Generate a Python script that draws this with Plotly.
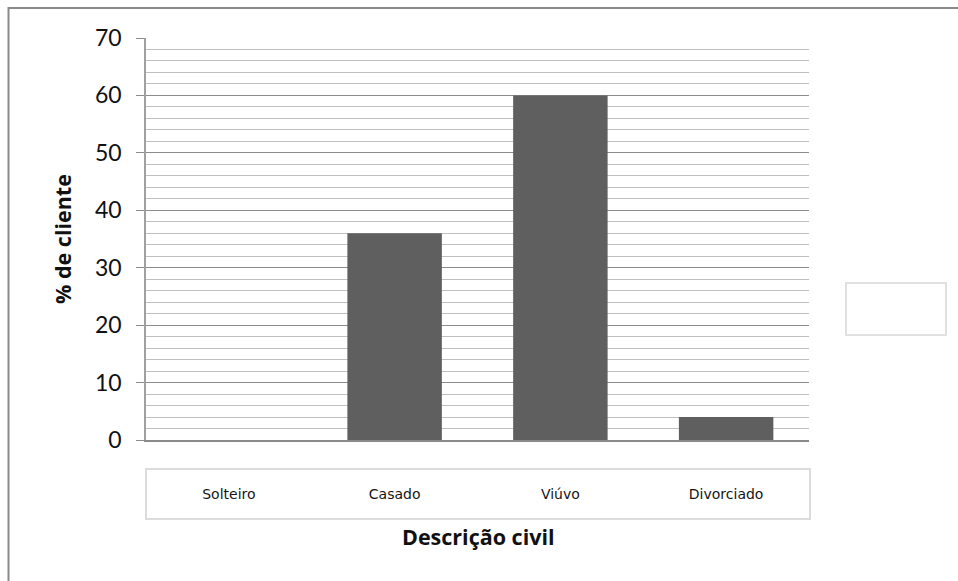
import plotly.graph_objects as go

# Estado civil dos clientes (% de cliente)
categorias = ["Solteiro", "Casado", "Viúvo", "Divorciado"]
percentuais = [0, 36, 60, 4]
y_ticks = [0, 10, 20, 30, 40, 50, 60, 70]

W, H = 958, 581


def px_x(px):
    return px / W


def px_y(py):
    return 1 - py / H


fig = go.Figure(
    go.Bar(
        x=categorias,
        y=percentuais,
        marker=dict(color="#5f5f5f", line=dict(width=0)),
        width=0.57,
        hoverinfo="x+y",
    )
)

fig.update_layout(
    width=W,
    height=H,
    margin=dict(l=0, r=0, t=0, b=0, autoexpand=False),
    paper_bgcolor="white",
    plot_bgcolor="white",
    showlegend=False,
    xaxis=dict(
        domain=[px_x(146), px_x(809)],
        type="category",
        showgrid=False,
        showline=True,
        linecolor="#8a8a8a",
        linewidth=1.5,
        ticks="",
        ticklabelstandoff=40,
        tickfont=dict(family="DejaVu Sans", size=14, color="#151515"),
    ),
    yaxis=dict(
        domain=[px_y(440), px_y(38)],
        range=[0, 70],
        tickvals=y_ticks,
        ticks="outside",
        ticklen=8,
        tickcolor="#8c8c8c",
        tickwidth=1.3,
        showline=True,
        linecolor="#a0a0a0",
        linewidth=1.5,
        showgrid=True,
        gridcolor="#8c8c8c",
        gridwidth=1.3,
        zeroline=False,
        ticklabelstandoff=10,
        tickfont=dict(family="Lato", size=23, color="#111111"),
        minor=dict(dtick=2, showgrid=True, gridcolor="#c0c0c0", gridwidth=1.2, ticks=""),
    ),
    shapes=[
        # moldura externa do gráfico
        dict(type="rect", xref="paper", yref="paper",
             x0=px_x(8.5), x1=1.05, y0=-0.05, y1=px_y(8),
             line=dict(color="#8a8a8a", width=2)),
        # caixa das categorias
        dict(type="rect", xref="paper", yref="paper",
             x0=px_x(146), x1=px_x(810), y0=px_y(519), y1=px_y(469),
             line=dict(color="#dcdcdc", width=2)),
        # caixa da legenda
        dict(type="rect", xref="paper", yref="paper",
             x0=px_x(846), x1=px_x(946), y0=px_y(335), y1=px_y(283),
             line=dict(color="#e0e0e0", width=2)),
    ],
    annotations=[
        dict(text="<b>Descrição civil</b>", xref="paper", yref="paper",
             x=px_x(478), y=px_y(536), showarrow=False,
             xanchor="center", yanchor="middle",
             font=dict(family="Open Sans", size=21.5, color="#111111")),
        dict(text="<b>% de cliente</b>", xref="paper", yref="paper",
             x=px_x(62), y=px_y(239), showarrow=False, textangle=-90,
             xanchor="center", yanchor="middle",
             font=dict(family="Open Sans", size=21.5, color="#111111")),
    ],
)

fig.write_html("out.html")
